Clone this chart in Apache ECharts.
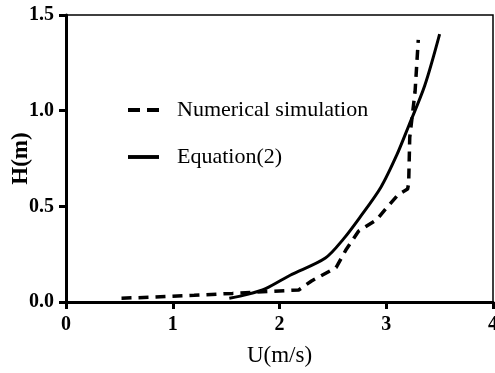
<!DOCTYPE html>
<html><head><meta charset="utf-8">
<script src="https://cdn.jsdelivr.net/npm/echarts@6/dist/echarts.min.js"></script>
<style>html,body{margin:0;padding:0;background:#fff;overflow:hidden}#c{width:495px;height:373px}</style>
</head><body><div id="c"></div>
<script>
const seriesNames = ['Numerical simulation', 'Equation(2)'];
const simU = [0.52, 0.8, 1.2, 1.56, 1.9, 2.18, 2.3, 2.53, 2.62, 2.74, 2.91, 3.0, 3.11, 3.2, 3.21, 3.22, 3.27, 3.30];
const simH = [0.02, 0.025, 0.035, 0.045, 0.055, 0.063, 0.11, 0.18, 0.27, 0.37, 0.43, 0.49, 0.56, 0.59, 0.62, 0.86, 1.1, 1.37];
const eqU = [1.53, 1.7, 1.87, 2.1, 2.43, 2.6, 2.75, 2.95, 3.1, 3.21, 3.36, 3.5];
const eqH = [0.02, 0.04, 0.07, 0.14, 0.23, 0.33, 0.44, 0.6, 0.77, 0.92, 1.13, 1.40];
const xTicks = [0, 1, 2, 3, 4];
const yTicks = [0.0, 0.5, 1.0, 1.5];

const font = '"Liberation Serif", "Times New Roman", serif';
const chart = echarts.init(document.getElementById('c'), null, {renderer: 'canvas', width: 495, height: 373});
chart.setOption({
  animation: false,
  grid: {left: 66, right: 2, top: 15, bottom: 71, show: true, borderColor: '#000', borderWidth: 1.5,
    containLabel: false, outerBoundsMode: 'none'},
  legend: {
    orient: 'vertical', left: 123, top: 94, itemWidth: 31, itemHeight: 4, itemGap: 25,
    data: [
      {name: seriesNames[0], icon: 'path://M0,0H12V4H0Z M19,0H31V4H19Z'},
      {name: seriesNames[1], icon: 'path://M0,0H32V4H0Z'}
    ],
    itemStyle: {color: '#000'},
    textStyle: {fontFamily: font, fontSize: 22, color: '#000', padding: [0, 0, 0, 13]}
  },
  xAxis: [{
    type: 'value', min: xTicks[0], max: xTicks[xTicks.length - 1], interval: 1,
    name: 'U(m/s)', nameLocation: 'middle', nameGap: 42, nameMoveOverlap: false,
    nameTextStyle: {fontFamily: font, fontSize: 23, color: '#000'},
    axisLine: {show: true, onZero: false, lineStyle: {color: '#000', width: 3}},
    axisTick: {show: true, length: 7, lineStyle: {color: '#000', width: 3}},
    axisLabel: {fontFamily: font, fontSize: 20, fontWeight: 'bold', color: '#000', margin: 13},
    splitLine: {show: false}
  }, {
    type: 'value', position: 'top', min: 0, max: 4,
    axisLine: {show: true, lineStyle: {color: '#000', width: 3}},
    axisTick: {show: false}, axisLabel: {show: false}, splitLine: {show: false}
  }],
  yAxis: {
    type: 'value', min: yTicks[0], max: yTicks[yTicks.length - 1], interval: 0.5,
    name: 'H(m)', nameLocation: 'middle', nameGap: 33, nameRotate: 90, nameMoveOverlap: false,
    nameTextStyle: {fontFamily: font, fontSize: 23, fontWeight: 'bold', color: '#000'},
    axisLine: {show: true, onZero: false, lineStyle: {color: '#000', width: 3}},
    axisTick: {show: true, length: 7, lineStyle: {color: '#000', width: 3}},
    axisLabel: {fontFamily: font, fontSize: 20, fontWeight: 'bold', color: '#000', margin: 12,
      formatter: v => v.toFixed(1)},
    splitLine: {show: false}
  },
  series: [{
    name: seriesNames[0], type: 'line', symbol: 'none', smooth: false,
    data: simU.map((u, i) => [u, simH[i]]),
    lineStyle: {color: '#000', width: 3.5, type: [10, 7]},
    itemStyle: {color: '#000'}
  }, {
    name: seriesNames[1], type: 'line', symbol: 'none', smooth: 0.3,
    data: eqU.map((u, i) => [u, eqH[i]]),
    lineStyle: {color: '#000', width: 3}, itemStyle: {color: '#000'}
  }]
});
</script></body></html>
